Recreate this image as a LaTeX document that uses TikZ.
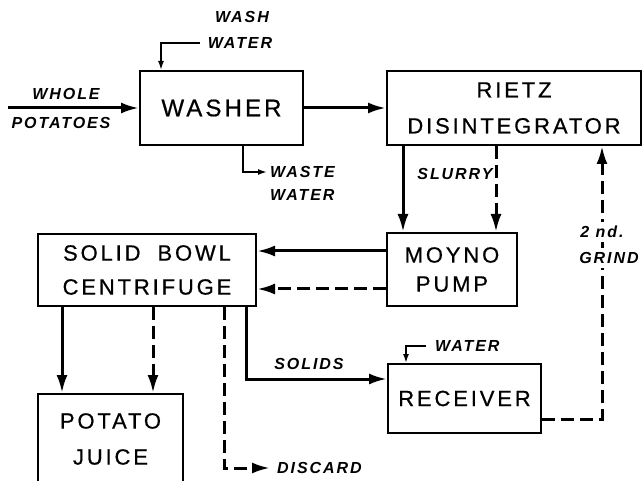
\documentclass[tikz,border=0pt]{standalone}
\usepackage{fontspec}
\setmainfont{Liberation Sans}
\newfontfamily\boxfont[LetterSpace=13,FakeBold=0.6]{Liberation Sans}
\newfontfamily\labfont[LetterSpace=12]{Liberation Sans}
\usetikzlibrary{arrows.meta}
\tikzset{
  proc/.style={draw, line width=2pt, align=center, inner sep=0pt,
    font=\boxfont\fontsize{22}{36}\selectfont},
  lab/.style={inner sep=0pt, font=\labfont\bfseries\itshape\fontsize{16}{18}\selectfont},
  gaplab/.style={lab, fill=white, inner xsep=1pt, inner ysep=4pt},
  flow/.style={line width=3pt, -{Latex[length=18pt,width=11pt]}},
  dflow/.style={flow, dash pattern=on 13pt off 6pt},
  smallflow/.style={line width=1.6pt, -{Latex[length=9pt,width=6pt]}}
}
\begin{document}
\begin{tikzpicture}[x=1pt,y=-1pt]
\useasboundingbox (0,0) rectangle (643,481);
\clip (0,0) rectangle (643,481);
% boxes
\node[proc, minimum width=163pt, minimum height=74pt, font=\boxfont\fontsize{24}{36}\selectfont] (washer) at (221.5,108) {WASHER};
\node[proc, minimum width=254pt, minimum height=74pt] (rietz) at (514,108) {RIETZ\\DISINTEGRATOR};
\node[proc, minimum width=130pt, minimum height=73pt] (moyno) at (452,269.5) {MOYNO\\[-7pt]PUMP};
\node[proc, minimum width=218pt, minimum height=72pt] (bowl) at (147,270) {SOLID\hspace{8pt} BOWL\\[-2pt]CENTRIFUGE};
\node[proc, minimum width=145pt, minimum height=90pt] (juice) at (110.5,439) {POTATO\\JUICE};
\node[proc, minimum width=153pt, minimum height=69pt] (receiver) at (464.5,398.5) {RECEIVER};
% labels
\node[lab] (lwhole) at (66,94) {WHOLE};
\node[lab] (lpot) at (61,123) {POTATOES};
\node[lab] (lwash) at (242,17) {WASH};
\node[lab] (lwashw) at (240,43) {WATER};
\node[lab, anchor=west] (lwaste) at (270,172) {WASTE};
\node[lab, anchor=west] (lwastew) at (270,195) {WATER};
\node[lab] (lslurry) at (455,174) {SLURRY};
\node[lab] (lsolids) at (309,364) {SOLIDS};
\node[lab, anchor=west] (lrw) at (435,346) {WATER};
\node[lab, anchor=west] (ldisc) at (277,468) {DISCARD};
% free ends
\coordinate (wp) at (8,108);
\coordinate (ww) at (200,43);
\coordinate (wwend) at (267,172);
\coordinate (rw) at (426,346);
\coordinate (dend) at (270,468);
% connectors
\draw[flow] (wp) -- (washer.west);
\draw[smallflow] (ww) -| ([xshift=22pt]washer.north west);
\draw[smallflow] ([xshift=104pt]washer.south west) |- (wwend);
\draw[flow] (washer.east) -- (rietz.west);
\draw[flow] ([xshift=17pt]rietz.south west) -- ([xshift=17pt]moyno.north west);
\draw[dflow] ([xshift=110pt]rietz.south west) -- ([xshift=110pt]moyno.north west);
\draw[flow] ([yshift=-19pt]moyno.north west) coordinate (m1) -- (m1 -| bowl.east);
\draw[dflow] ([yshift=-57pt]moyno.north west) coordinate (m2) -- (m2 -| bowl.east);
\draw[flow] ([xshift=25pt]bowl.south west) -- ([xshift=25pt]juice.north west);
\draw[dflow] ([xshift=116pt]bowl.south west) -- ([xshift=116pt]juice.north west);
\draw[dflow] ([xshift=187pt]bowl.south west) |- (dend);
\draw[flow] ([xshift=209pt]bowl.south west) |- ([yshift=-16pt]receiver.north west);
\draw[smallflow] (rw) -| ([xshift=19pt]receiver.north west);
\draw[dflow] ([yshift=15pt]receiver.south east) -| ([xshift=-40pt]rietz.south east);
\node[gaplab] (l2nd) at (602,232) {2 nd.};
\node[gaplab] (lgrind) at (609,258) {GRIND};
\end{tikzpicture}
\end{document}
